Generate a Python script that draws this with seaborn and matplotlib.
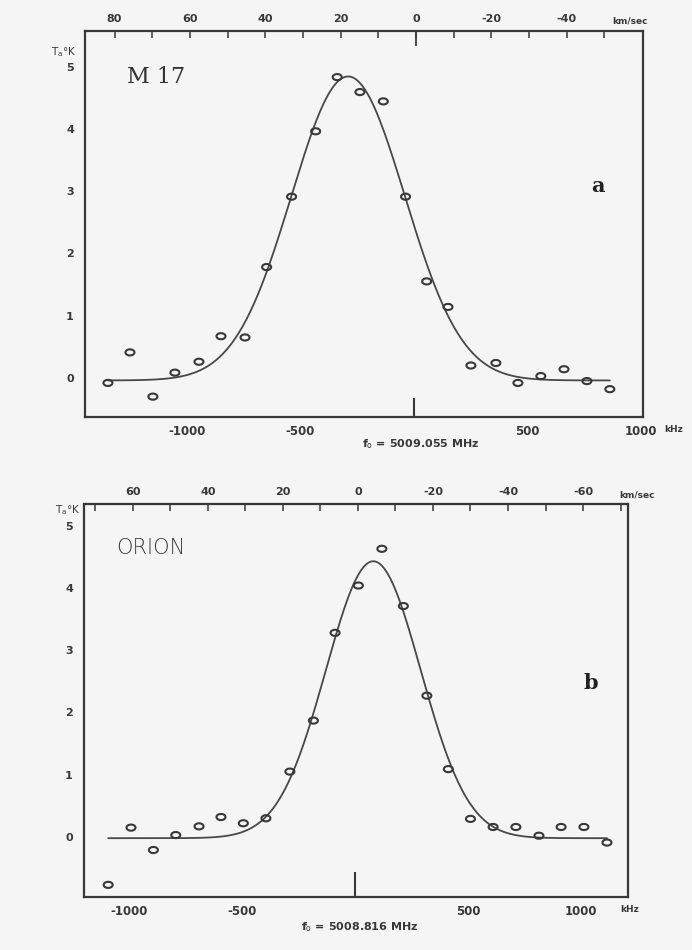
import numpy as np
import pandas as pd
import matplotlib
matplotlib.use("Agg")
import matplotlib.pyplot as plt
from matplotlib.path import Path
from matplotlib.ticker import FixedLocator
import seaborn as sns

# ---------------- data ----------------
# Panel a : M17, f0 = 5009.055 MHz
m17_freq_khz = [-1348, -1251, -1150, -1053, -947, -850, -744, -649, -539, -433, -338,
                -238, -135, -37, 56, 150, 251, 361, 458, 559, 661, 762, 863]
m17_temp_k = [-0.08, 0.41, -0.30, 0.085, 0.26, 0.67, 0.65, 1.78, 2.91, 3.96, 4.83,
              4.59, 4.44, 2.91, 1.55, 1.14, 0.20, 0.24, -0.08, 0.03, 0.14, -0.05, -0.18]
# fitted gaussian profile parameters
m17_fit_peak = 4.88
m17_fit_center = -290
m17_fit_sigma = 250
m17_fit_base = -0.04

# Panel b : ORION, f0 = 5008.816 MHz
orion_freq_khz = [-1092, -991, -892, -793, -690, -593, -494, -394, -288, -184, -88,
                  15, 119, 214, 318, 413, 511, 611, 712, 814, 912, 1013, 1115]
orion_temp_k = [-0.77, 0.15, -0.21, 0.03, 0.17, 0.32, 0.22, 0.30, 1.05, 1.87, 3.28,
                4.04, 4.63, 3.71, 2.27, 1.09, 0.29, 0.16, 0.16, 0.02, 0.16, 0.16, -0.09]
orion_fit_peak = 4.45
orion_fit_center = 81
orion_fit_sigma = 210
orion_fit_base = -0.02

# axis tick labels
freq_labels = [-1000, -500, 500, 1000]
m17_vel_labels = [80, 60, 40, 20, 0, -20, -40]
orion_vel_labels = [60, 40, 20, 0, -20, -40, -60]
temp_labels = [0, 1, 2, 3, 4, 5]

# velocity <-> frequency offset scale (kHz per km/s) and zero offsets
khz_per_kms = 16.6
m17_vel_zero_khz = 9
orion_vel_zero_khz = 13

# ---------------- style ----------------
sns.set_style("white")
plt.rcParams["font.family"] = ["DejaVu Sans"]
BG = "#f5f5f5"
INK = "#383838"
LINE = "#484848"

fig = plt.figure(figsize=(6.92, 9.5), dpi=100, facecolor=BG)

t = np.linspace(0, 2 * np.pi, 40)
ellipse = Path(np.column_stack([np.cos(t), 0.68 * np.sin(t)]), closed=True)


def gauss_curve(x0, x1, peak, center, sigma, base):
    xs = np.linspace(x0, x1, 400)
    ys = base + peak * np.exp(-0.5 * ((xs - center) / sigma) ** 2)
    return pd.DataFrame({"f": xs, "T": ys})


def panel(rect, xlim, ylim, freqs, temps, fit, vel_zero, vel_labels, vel_ticks,
          minor_f, zero_len, top_zero_len, name, name_kw, letter, letter_xy,
          xlabel, xlabel_xy, kms_xy, khz_xy, tlabel_xy):
    ax = fig.add_axes(rect)
    ax.set_facecolor(BG)
    df = pd.DataFrame({"f": freqs, "T": temps})
    curve = gauss_curve(min(freqs), max(freqs), *fit)
    sns.lineplot(data=curve, x="f", y="T", ax=ax, color=LINE, lw=1.3, zorder=2)
    sns.scatterplot(data=df, x="f", y="T", ax=ax, marker=ellipse, s=42,
                    facecolors="none", edgecolors=INK, linewidths=1.5, zorder=3)
    ax.set_xlim(*xlim)
    ax.set_ylim(*ylim)
    ax.set_xlabel("")
    ax.set_ylabel("")
    for s in ax.spines.values():
        s.set_visible(True)
        s.set_color(INK)
        s.set_linewidth(1.6)
    # bottom axis (frequency)
    ax.xaxis.set_major_locator(FixedLocator(freq_labels))
    ax.set_xticklabels([str(v) for v in freq_labels], fontweight="semibold")
    ax.xaxis.set_minor_locator(FixedLocator(minor_f))
    ax.tick_params(axis="x", which="major", direction="in", length=6, width=1.1,
                   color=INK, labelsize=8.5, labelcolor=INK, pad=6)
    ax.tick_params(axis="x", which="minor", direction="in", length=4, width=1.0, color=INK)
    # y axis
    ax.yaxis.set_major_locator(FixedLocator(temp_labels))
    ax.set_yticklabels([str(v) for v in temp_labels], fontweight="bold")
    ax.tick_params(axis="y", which="major", direction="in", length=5, width=1.1,
                   color=INK, labelsize=8, labelcolor=INK, pad=8)
    # tall zero tick on the frequency axis
    z = ax.secondary_xaxis("bottom")
    z.set_xticks([0])
    z.tick_params(direction="in", length=zero_len, width=1.5, color=INK, labelbottom=False)
    z.spines["bottom"].set_visible(False)
    # top axis (velocity)
    f2v = lambda f: (vel_zero - np.asarray(f, dtype=float)) / khz_per_kms
    v2f = lambda v: vel_zero - khz_per_kms * np.asarray(v, dtype=float)
    top = ax.secondary_xaxis("top", functions=(f2v, v2f))
    top.xaxis.set_major_locator(FixedLocator(vel_labels))
    top.set_xticklabels([str(v) for v in vel_labels], fontweight="semibold")
    top.xaxis.set_minor_locator(FixedLocator(vel_ticks))
    top.tick_params(which="major", direction="in", length=5, width=1.1, color=INK,
                    labelsize=8, labelcolor=INK, pad=5)
    top.tick_params(which="minor", direction="in", length=5, width=1.1, color=INK)
    top.spines["top"].set_visible(False)
    if top_zero_len:
        tz = ax.secondary_xaxis("top", functions=(f2v, v2f))
        tz.set_xticks([0])
        tz.tick_params(direction="in", length=top_zero_len, width=1.3, color=INK,
                       labeltop=False)
        tz.spines["top"].set_visible(False)
    # texts
    W, H = 692.0, 950.0
    ax.text(*name, transform=fig.transFigure, **name_kw)
    fig.text(letter_xy[0] / W, 1 - letter_xy[1] / H, letter, fontsize=15,
             fontweight="bold", family="DejaVu Serif", color="#222222",
             ha="center", va="center")
    fig.text(xlabel_xy[0] / W, 1 - xlabel_xy[1] / H, xlabel, fontsize=8,
             fontweight="bold", color=INK, ha="center", va="center")
    fig.text(kms_xy[0] / W, 1 - kms_xy[1] / H, "km/sec", fontsize=6.5,
             fontweight="bold", color=INK, ha="center", va="center")
    fig.text(khz_xy[0] / W, 1 - khz_xy[1] / H, "kHz", fontsize=6.5,
             fontweight="bold", color=INK, ha="center", va="center")
    fig.text(tlabel_xy[0] / W, 1 - tlabel_xy[1] / H, r"T$_{\rm a}$°K", fontsize=7.5,
             color=INK, ha="center", va="center")
    return ax


W, H = 692.0, 950.0

# panel a geometry (pixels): left 85, right 643, top 31, bottom 417
panel(rect=[85 / W, 1 - 417 / H, 558 / W, 386 / H],
      xlim=(-1449, 1009), ylim=(-0.627, 5.57),
      freqs=m17_freq_khz, temps=m17_temp_k,
      fit=(m17_fit_peak, m17_fit_center, m17_fit_sigma, m17_fit_base),
      vel_zero=m17_vel_zero_khz, vel_labels=m17_vel_labels,
      vel_ticks=list(range(80, -51, -10)),
      minor_f=list(range(-1400, 901, 100)), zero_len=14, top_zero_len=11,
      name=(127 / W, 1 - 77 / H, "M 17"),
      name_kw=dict(fontsize=16, family="DejaVu Serif", color="#333333",
                   ha="left", va="center"),
      letter="a", letter_xy=(598, 186),
      xlabel=r"f$_{\rm o}$ = 5009.055 MHz", xlabel_xy=(421, 444),
      kms_xy=(630, 21), khz_xy=(674, 429), tlabel_xy=(64, 52))

# panel b geometry (pixels): left 84, right 628, top 504, bottom 897
panel(rect=[84 / W, 1 - 897 / H, 544 / W, 393 / H],
      xlim=(-1199, 1208), ylim=(-0.965, 5.35),
      freqs=orion_freq_khz, temps=orion_temp_k,
      fit=(orion_fit_peak, orion_fit_center, orion_fit_sigma, orion_fit_base),
      vel_zero=orion_vel_zero_khz, vel_labels=orion_vel_labels,
      vel_ticks=list(range(70, -71, -10)),
      minor_f=list(range(-1100, 1101, 100)), zero_len=18, top_zero_len=0,
      name=(116 / W, 1 - 548 / H, "ORION"),
      name_kw=dict(fontsize=15, family="DejaVu Sans", fontweight="light",
                   color="#404040", ha="left", va="center"),
      letter="b", letter_xy=(591, 683),
      xlabel=r"f$_{\rm o}$ = 5008.816 MHz", xlabel_xy=(360, 927),
      kms_xy=(637, 495), khz_xy=(630, 909), tlabel_xy=(68, 510))

fig.savefig("out.png", dpi=100, facecolor=BG)
